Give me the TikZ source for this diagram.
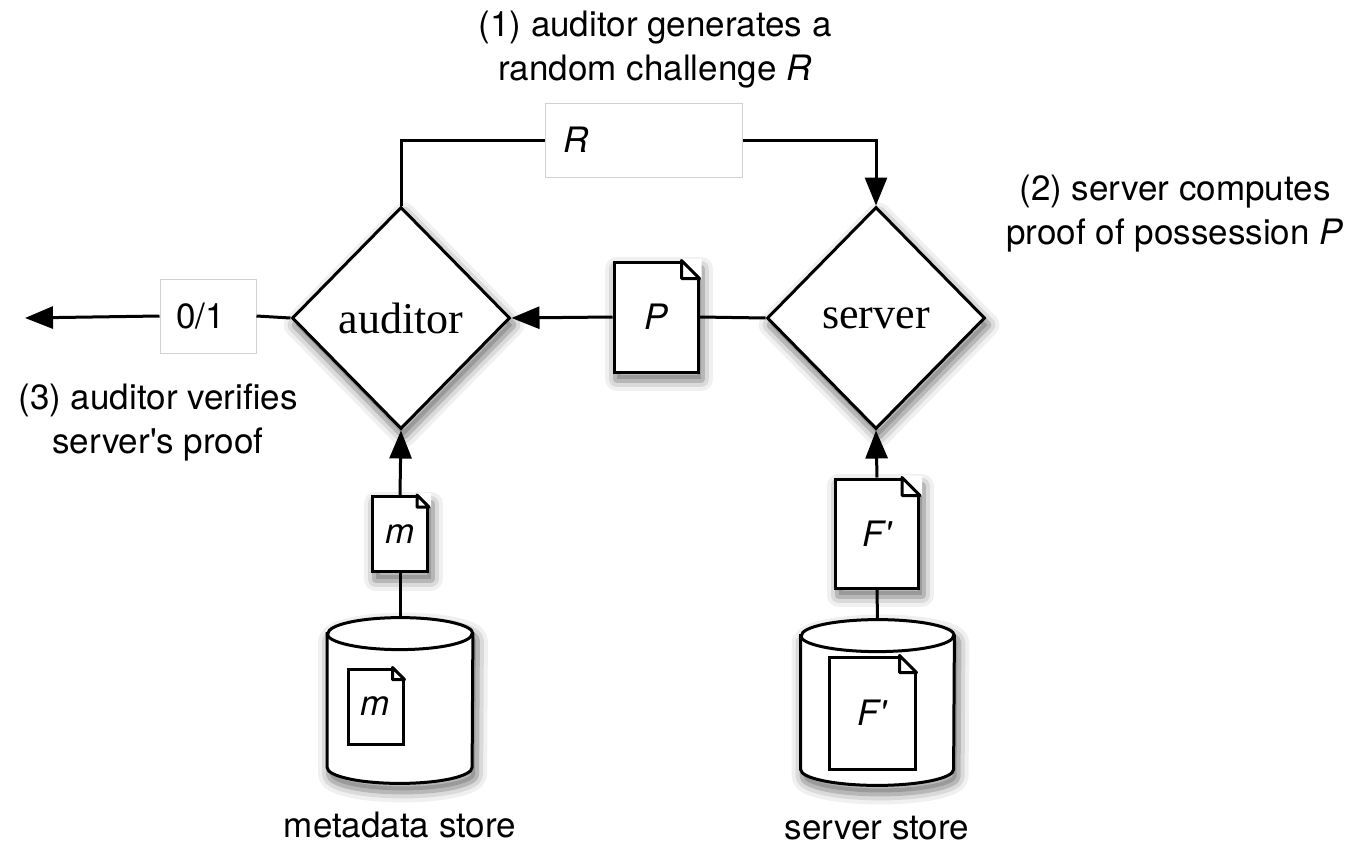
\documentclass[tikz,border=0pt]{standalone}
\usepackage{fontspec}
\setmainfont{TeX Gyre Heros}
\newfontfamily\timesfont{Liberation Serif}
\usetikzlibrary{arrows.meta, positioning, shapes.geometric, shadows}

\tikzset{
  wire/.style={line width=1.5pt},
  arr/.style={-{Triangle[length=14pt,width=11pt]}},
  softshadow/.style={
    general shadow={draw=black, line width=12pt, line join=round, opacity=0.06, shadow xshift=1.5pt, shadow yshift=-3.5pt},
    general shadow={draw=black, line width=8pt, line join=round, opacity=0.09, shadow xshift=1.5pt, shadow yshift=-3.5pt},
    general shadow={draw=black, fill=black, line width=4pt, line join=round, opacity=0.16, shadow xshift=1.5pt, shadow yshift=-3.5pt}},
  party/.style={diamond, draw, line width=1.5pt, fill=white, softshadow, minimum width=109pt, minimum height=111pt, inner sep=0pt, font=\timesfont\fontsize{22}{26}\selectfont},
  doc/.style={rectangle, draw, line width=1.5pt, fill=white, inner sep=0pt, font=\fontsize{17.5}{22}\selectfont\itshape},
  msg/.style={rectangle, draw=black!18, line width=0.5pt, fill=white, minimum height=37pt, align=left, font=\fontsize{17.5}{22}\selectfont},
  store/.style={rectangle, inner sep=0pt, minimum height=82.5pt},
  lbl/.style={align=center, font=\fontsize{17.5}{22}\selectfont}
}

% folded corner of a document node
\newcommand{\dogear}[2]{%
  \fill[white] ([xshift=-#2,yshift=1pt]#1.north east) -- ([xshift=1pt,yshift=1pt]#1.north east)
    -- ([xshift=1pt,yshift=-#2]#1.north east) -- ([yshift=-#2]#1.north east)
    -- ([xshift=-#2]#1.north east) -- cycle;
  \draw[wire, line join=round] ([xshift=-#2]#1.north east) -- ([yshift=-#2]#1.north east)
    -- ([xshift=-#2,yshift=-#2]#1.north east) -- cycle;
}

% storage drum round a store node
\newcommand{\drum}[3]{%
  \draw[wire, fill=white, softshadow] ([yshift=-#3]#1.north west) -- ([yshift=#3]#1.south west)
    arc[start angle=180, end angle=360, x radius=#2, y radius=#3]
    -- ([yshift=-#3]#1.north east)
    arc[start angle=0, end angle=180, x radius=#2, y radius=#3] -- cycle;
  \draw[wire] ([yshift=-#3]#1.north west) arc[start angle=180, end angle=360, x radius=#2, y radius=#3];
}

\begin{document}
\begin{tikzpicture}[x=0.5pt, y=-0.5pt, on grid]
\useasboundingbox (0,0) rectangle (1360,846);

\node (auditor) [party] at (401,318) {auditor};
\node (server) [party, right=237.5pt of auditor] {server};

\node (chal) [msg, inner xsep=9pt, text width=80.5pt] at (643.5,140) {\textit{R}};
\node (verdict) [msg, inner xsep=8pt, text width=32pt] at (208,316) {0/1};
\coordinate (exit) at (25,318);

\node (pdoc) [doc, softshadow, minimum width=42pt, minimum height=55pt] at (656,317) {P};
\node (mdoc) [doc, softshadow, minimum width=27.5pt, minimum height=37.5pt] at (400,534) {m};
\node (fdoc) [doc, softshadow, minimum width=41.5pt, minimum height=54.5pt] at (877,533.5) {F\textquotesingle};

\node (mstore) [store, minimum width=72.5pt] at (400,700.5) {};
\node (sstore) [store, minimum width=76.5pt] at (877.5,702.5) {};
\drum{mstore}{36.25pt}{8pt}
\drum{sstore}{38.25pt}{8pt}
\node (minner) [doc, minimum width=27.5pt, minimum height=37.5pt] at (375.5,706.5) {m};
\node (finner) [doc, minimum width=43pt, minimum height=56pt] at (872,713) {F\textquotesingle};

\dogear{pdoc}{9pt}
\dogear{fdoc}{9pt}
\dogear{mdoc}{6pt}
\dogear{minner}{6pt}
\dogear{finner}{8.5pt}

\draw [wire] (auditor.north) |- (chal.west);
\draw [wire, arr] (chal.east) -| (server.north);
\draw [wire] (server.west) -- (pdoc.east);
\draw [wire, arr] (pdoc.west) -- (auditor.east);
\draw [wire] (auditor.west) -- (verdict.east);
\draw [wire, arr] (verdict.west) -- (exit);
\draw [wire, arr] (mdoc.north) -- (auditor.south);
\draw [wire] (mstore.north) -- (mdoc.south);
\draw [wire, arr] (fdoc.north) -- (server.south);
\draw [wire] (sstore.north) -- (fdoc.south);

\node (step1) [lbl] at (655,50) {(1) auditor generates a\\random challenge \textit{R}};
\node (step2) [lbl] at (1175,214) {(2) server computes\\proof of possession \textit{P}};
\node (step3) [lbl] at (158,423) {(3) auditor verifies\\server\textquotesingle s proof};
\node (mname) [lbl] at (400,825) {metadata store};
\node (sname) [lbl] at (877,828) {server store};
\end{tikzpicture}
\end{document}
